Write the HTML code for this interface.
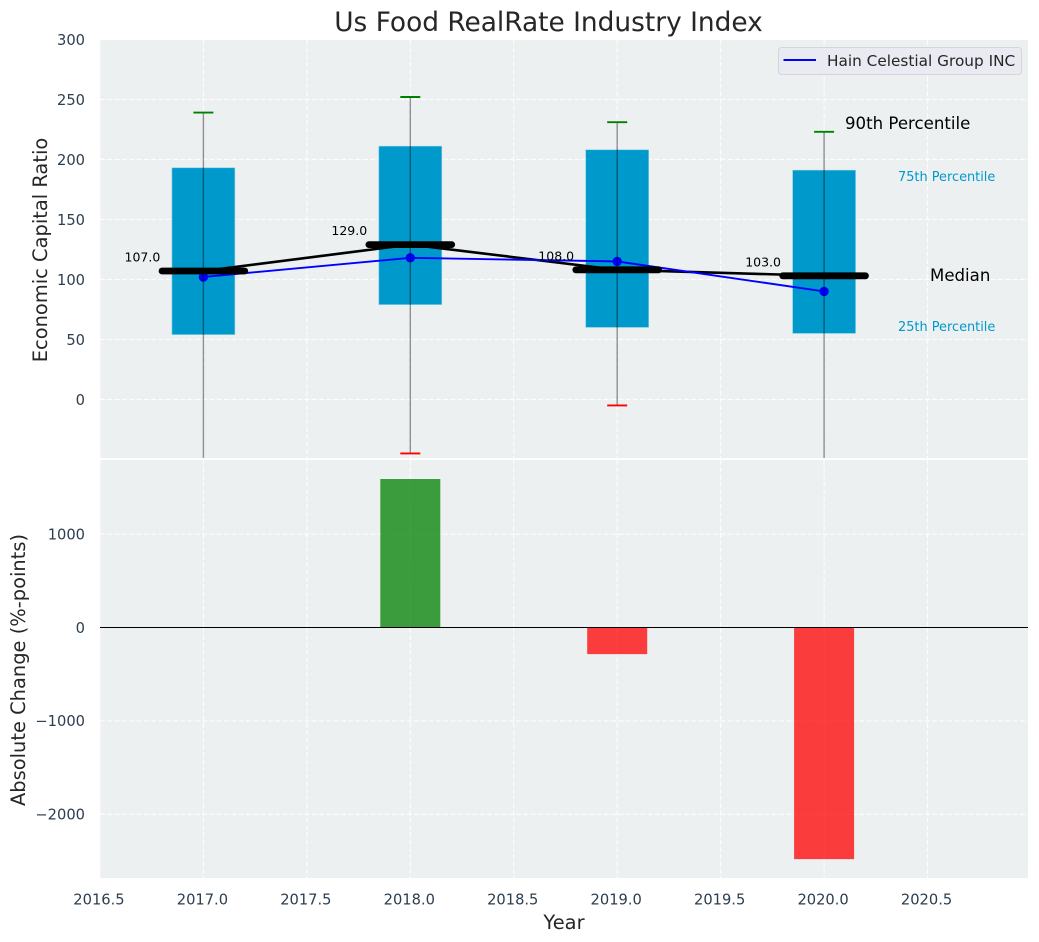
<!DOCTYPE html>
<html lang="en">
<head>
<meta charset="utf-8">
<title>Us Food RealRate Industry Index</title>
<style>
html,body{margin:0;padding:0;background:#fff;}
body{width:1039px;height:942px;overflow:hidden;}
svg{display:block;font-family:"DejaVu Sans","Liberation Sans",sans-serif;}
</style>
</head>
<body>
<svg id="chart" xmlns="http://www.w3.org/2000/svg" width="1039" height="942" viewBox="0 0 1039 942"></svg>
<script>
const years = [2017, 2018, 2019, 2020];
const p90 = [239, 252, 231, 223];
const p75 = [193, 211, 208, 191];
const medians = [107, 129, 108, 103];
const p25 = [54, 79, 60, 55];
const p10 = [-80, -45, -5, -70];
const company = [102, 118, 115, 90];
const changeYears = [2018, 2019, 2020];
const changes = [1590, -285, -2480];
const xTicks = [2016.5, 2017, 2017.5, 2018, 2018.5, 2019, 2019.5, 2020, 2020.5];
const topTicks = [0, 50, 100, 150, 200, 250, 300];
const bottomTicks = [-2000, -1000, 0, 1000];

const NS = 'http://www.w3.org/2000/svg';
const svg = document.getElementById('chart');
const L = 100, R = 1028, T1 = 40, B1 = 458, T2 = 460, B2 = 878;
function x(v) { return 203.4 + (v - 2017) * 206.9; }
function yTop(v) { return 399.4 - v * 1.2; }
function yBot(v) { return 627.5 - v * 0.0934; }
function mk(tag, attrs, parent) {
  const e = document.createElementNS(NS, tag);
  for (const k in attrs) e.setAttribute(k, attrs[k]);
  (parent || svg).appendChild(e);
  return e;
}
function txt(s, attrs, parent) {
  const e = mk('text', attrs, parent);
  e.textContent = s;
  return e;
}
function fmt(v) { return String(v).replace('-', '\u2212'); }

const defs = mk('defs', {});
const clip = mk('clipPath', { id: 'clip-top' }, defs);
mk('rect', { x: L, y: T1, width: R - L, height: B1 - T1 }, clip);

// Panel backgrounds
const bgTop = mk('rect', { x: L, y: T1, width: R - L, height: B1 - T1, fill: '#ecf0f1' });


const bgBot = mk('rect', { x: L, y: T2, width: R - L, height: B2 - T2, fill: '#ecf0f1' });



// Gridlines
const gridStyle = { stroke: '#ffffff', 'stroke-width': 1.1, 'stroke-dasharray': '5.1 2.2', opacity: 0.9 };
xTicks.forEach(function (t) {
  const a = mk('line', Object.assign({ x1: x(t), x2: x(t), y1: T1, y2: B1 }, gridStyle));
  
  
  const b = mk('line', Object.assign({ x1: x(t), x2: x(t), y1: T2, y2: B2 }, gridStyle));
  
  
  const lab = txt(String(t.toFixed(1)), { x: x(t) - 1, y: 904.5, 'text-anchor': 'middle', 'font-size': 14.67, fill: '#2c3e50' });
  
  
});
topTicks.forEach(function (t) {
  const g = mk('line', Object.assign({ x1: L, x2: R, y1: yTop(t), y2: yTop(t) }, gridStyle));
  
  
  const lab = txt(fmt(t), { x: 85, y: yTop(t) + 5.8, 'text-anchor': 'end', 'font-size': 14.67, fill: '#2c3e50' });
  
  
});
bottomTicks.forEach(function (t) {
  const g = mk('line', Object.assign({ x1: L, x2: R, y1: yBot(t), y2: yBot(t) }, gridStyle));
  
  
  const lab = txt(fmt(t), { x: 85, y: yBot(t) + 5.3, 'text-anchor': 'end', 'font-size': 14.67, fill: '#2c3e50' });
  
  
});

// Top panel marks
const topGroup = mk('g', { 'clip-path': 'url(#clip-top)' });


const boxHalf = 0.152;
years.forEach(function (yr, i) {
  const box = mk('rect', {
    x: x(yr - boxHalf), y: yTop(p75[i]),
    width: x(yr + boxHalf) - x(yr - boxHalf), height: yTop(p25[i]) - yTop(p75[i]),
    fill: '#0099cc', stroke: '#7fcce5', 'stroke-width': 0.6
  }, topGroup);
  
  
});
const medianPts = years.map(function (yr, i) { return x(yr) + ',' + yTop(medians[i]); }).join(' ');
const medianLine = mk('polyline', { points: medianPts, fill: 'none', stroke: '#000', 'stroke-width': 2.6 }, topGroup);


const compPts = years.map(function (yr, i) { return x(yr) + ',' + yTop(company[i]); }).join(' ');
const compLine = mk('polyline', { points: compPts, fill: 'none', stroke: '#0000ff', 'stroke-width': 1.9 }, topGroup);


years.forEach(function (yr, i) {
  const dot = mk('circle', { cx: x(yr), cy: yTop(company[i]), r: 4.7, fill: '#0000ff' }, topGroup);
  
  
  const w = mk('line', { x1: x(yr), x2: x(yr), y1: yTop(p90[i]), y2: yTop(p10[i]), stroke: '#000', 'stroke-opacity': 0.42, 'stroke-width': 1.4 }, topGroup);
  
  
  const hi = mk('line', { x1: x(yr) - 10, x2: x(yr) + 10, y1: yTop(p90[i]), y2: yTop(p90[i]), stroke: '#008000', 'stroke-width': 1.9 }, topGroup);
  
  
  const lo = mk('line', { x1: x(yr) - 10, x2: x(yr) + 10, y1: yTop(p10[i]), y2: yTop(p10[i]), stroke: '#ff0000', 'stroke-width': 1.9 }, topGroup);
  
  
  const med = mk('line', { x1: x(yr - 0.2), x2: x(yr + 0.2), y1: yTop(medians[i]), y2: yTop(medians[i]), stroke: '#000', 'stroke-width': 6.8, 'stroke-linecap': 'round' }, topGroup);
  
  
  const lab = txt(medians[i].toFixed(1), { x: x(yr) - 61, y: yTop(medians[i]) - 9.5, 'text-anchor': 'middle', 'font-size': 12.5, fill: '#000' });
  
  
});

// Bottom panel bars
changeYears.forEach(function (yr, i) {
  const v = changes[i];
  const top = Math.min(yBot(v), yBot(0));
  const bar = mk('rect', {
    x: x(yr - 0.145), y: top,
    width: x(yr + 0.145) - x(yr - 0.145), height: Math.abs(yBot(v) - yBot(0)),
    fill: v >= 0 ? '#008000' : '#ff0000', 'fill-opacity': 0.75
  });
  
  
});
const zero = mk('line', { x1: L, x2: R, y1: yBot(0), y2: yBot(0), stroke: '#000', 'stroke-width': 1.1 });



// Percentile annotations
const a90 = txt('90th Percentile', { x: 845, y: 129, 'font-size': 16.6, fill: '#000' });


const a75 = txt('75th Percentile', { x: 898, y: 181, 'font-size': 12.9, fill: '#0099cc' });


const aMed = txt('Median', { x: 930, y: 281, 'font-size': 16.6, fill: '#000' });


const a25 = txt('25th Percentile', { x: 898, y: 331, 'font-size': 12.9, fill: '#0099cc' });



// Legend
const legend = mk('g', {});


const legendBox = mk('rect', { x: 778.5, y: 47.5, width: 243, height: 27, rx: 3, fill: '#eaeaf2', stroke: '#d5d5d8', 'stroke-width': 1 }, legend);


const legendLine = mk('line', { x1: 783.5, x2: 816, y1: 60, y2: 60, stroke: '#0000ff', 'stroke-width': 1.9 }, legend);


const legendText = txt('Hain Celestial Group INC', { x: 827, y: 66, 'font-size': 15.3, fill: '#262626' }, legend);



// Titles
const title = txt('Us Food RealRate Industry Index', { x: 548.5, y: 31, 'text-anchor': 'middle', 'font-size': 26.4, fill: '#262626' });


const xTitle = txt('Year', { x: 564, y: 929, 'text-anchor': 'middle', 'font-size': 19.44, fill: '#262626' });


const yTitleTop = txt('Economic Capital Ratio', { x: 0, y: 0, 'text-anchor': 'middle', 'font-size': 19.44, fill: '#262626', transform: 'translate(47,250) rotate(-90)' });


const yTitleBot = txt('Absolute Change (%-points)', { x: 0, y: 0, 'text-anchor': 'middle', 'font-size': 19.44, fill: '#262626', transform: 'translate(25,670) rotate(-90)' });


</script>
</body>
</html>
